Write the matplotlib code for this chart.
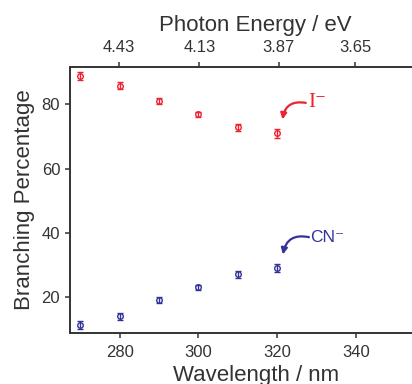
import numpy as np
import matplotlib
matplotlib.use('Agg')
import matplotlib.pyplot as plt

# Branching data
wavelength = [270, 280, 290, 300, 310, 320, 355]
iodide = [88.9, 85.9, 81.0, 77.0, 72.9, 71.0, 65.0]
iodide_err = [1.2, 1.1, 1.0, 0.8, 1.1, 1.4, 1.2]
cyanide = [11.1, 14.0, 19.0, 23.0, 27.0, 29.0, 35.0]
cyanide_err = [1.2, 1.1, 1.0, 0.8, 1.1, 1.3, 1.2]

bottom_ticks = [280, 300, 320, 340]
top_ticks_ev = [4.43, 4.13, 3.87, 3.65]
y_ticks = [20, 40, 60, 80]

red = '#ec2230'
blue = '#33339a'
dark = '#333333'

plt.rcParams['font.family'] = ['Liberation Sans', 'DejaVu Sans']

fig = plt.figure(figsize=(4.12, 3.84), dpi=100)
# axes run past the right edge of the figure, as in the cropped original
ax = fig.add_axes([0.1706, 0.1336, 0.900, 0.692])

for vals, errs, col in [(iodide, iodide_err, red), (cyanide, cyanide_err, blue)]:
    ax.errorbar(wavelength, vals, yerr=errs, fmt='o', ms=4, mfc='none',
                mec=col, mew=1.0, ecolor=col, elinewidth=1.0, capsize=2.2,
                capthick=1.0, clip_on=False)

ax.set_xlim(267.5, 361.5)
ax.set_ylim(8.8, 91.7)
ax.set_xticks(bottom_ticks)
ax.set_yticks(y_ticks)
ax.set_xlabel('Wavelength / nm', fontsize=16, color=dark, labelpad=4)
ax.set_ylabel('Branching Percentage', fontsize=16, color=dark, labelpad=5)

# top axis in photon energy
ax2 = ax.twiny()
ax2.set_xlim(ax.get_xlim())
ax2.set_xticks([1239.84 / e for e in top_ticks_ev])
ax2.set_xticklabels(['%.2f' % e for e in top_ticks_ev])
ax2.set_xlabel('Photon Energy / eV', fontsize=16, color=dark, labelpad=6)

for a in (ax, ax2):
    for s in a.spines.values():
        s.set_linewidth(1.2)
        s.set_color(dark)
    a.spines['right'].set_visible(False)
    a.tick_params(direction='out', length=3.8, width=1.1, color=dark,
                  labelsize=12, labelcolor=dark, pad=5)
ax.tick_params(axis='y', pad=3.5)

# labels with curved arrows
ax.annotate('', xy=(321.3, 75.3), xytext=(327.2, 80.5),
            arrowprops=dict(arrowstyle='-|>', color=red, lw=1.6,
                            connectionstyle='arc3,rad=0.5',
                            mutation_scale=9, shrinkA=0, shrinkB=0))
ax.text(327.9, 80.6, 'I\u207b', color=red, fontsize=15, va='center', ha='left',
        family=['Liberation Serif', 'DejaVu Serif'])

ax.annotate('', xy=(321.4, 33.2), xytext=(328.0, 38.6),
            arrowprops=dict(arrowstyle='-|>', color=blue, lw=1.6,
                            connectionstyle='arc3,rad=0.5',
                            mutation_scale=9, shrinkA=0, shrinkB=0))
ax.text(328.3, 38.4, 'CN\u207b', color=blue, fontsize=12.5, va='center', ha='left')

fig.savefig('out.png', dpi=100)
